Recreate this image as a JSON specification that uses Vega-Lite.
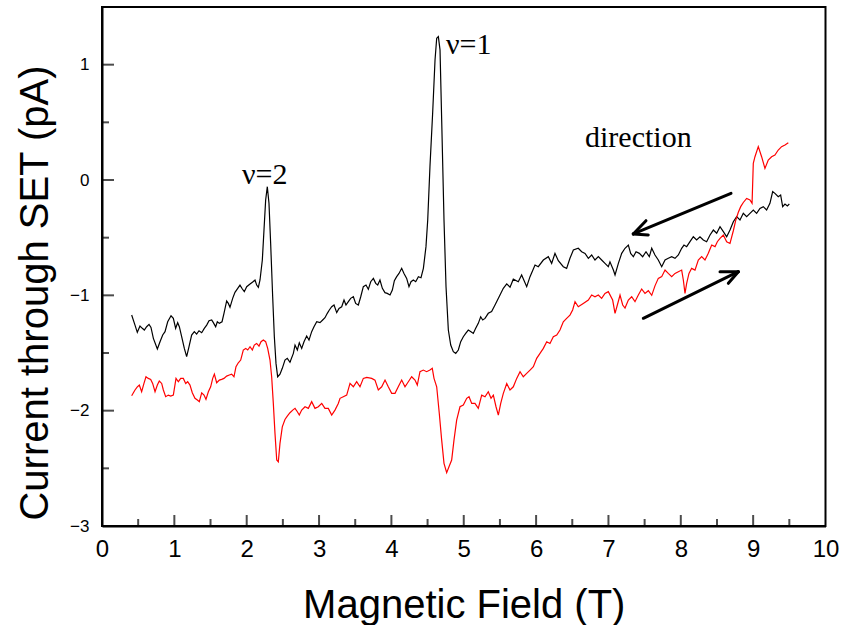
{
  "$schema": "https://vega.github.io/schema/vega-lite/v6.json",
  "width": 723.5,
  "height": 519,
  "autosize": {"type": "none"},
  "padding": {"left": 102, "top": 7, "right": 17.5, "bottom": 99},
  "background": "white",
  "config": {
    "view": {"stroke": "black", "strokeWidth": 2},
    "font": "Liberation Sans"
  },
  "datasets": {
    "down": [
      [0.41,-1.171],[0.456,-1.258],[0.488,-1.321],[0.525,-1.266],[0.557,-1.286],[0.585,-1.301],[0.617,-1.272],[0.65,-1.252],[0.677,-1.278],[0.71,-1.373],[0.765,-1.466],[0.802,-1.402],[0.839,-1.344],[0.871,-1.315],[0.908,-1.229],[0.954,-1.177],[0.986,-1.2],[1.018,-1.286],[1.046,-1.237],[1.069,-1.272],[1.101,-1.359],[1.138,-1.46],[1.17,-1.532],[1.202,-1.446],[1.239,-1.344],[1.276,-1.315],[1.308,-1.336],[1.341,-1.307],[1.378,-1.324],[1.414,-1.286],[1.447,-1.258],[1.479,-1.22],[1.516,-1.214],[1.539,-1.237],[1.571,-1.272],[1.594,-1.229],[1.622,-1.243],[1.659,-1.229],[1.686,-1.156],[1.723,-1.049],[1.746,-1.07],[1.769,-1.104],[1.806,-1.026],[1.838,-0.974],[1.876,-0.939],[1.907,-0.911],[1.94,-0.945],[1.967,-0.968],[2.0,-0.925],[2.046,-0.902],[2.083,-0.885],[2.115,-0.867],[2.138,-0.911],[2.161,-0.931],[2.184,-0.867],[2.216,-0.694],[2.239,-0.434],[2.262,-0.173],[2.285,-0.058],[2.308,-0.202],[2.331,-0.549],[2.359,-1.012],[2.382,-1.359],[2.405,-1.59],[2.428,-1.706],[2.46,-1.683],[2.492,-1.633],[2.529,-1.561],[2.561,-1.546],[2.598,-1.58],[2.645,-1.503],[2.668,-1.431],[2.7,-1.474],[2.727,-1.411],[2.76,-1.46],[2.792,-1.402],[2.829,-1.353],[2.861,-1.388],[2.898,-1.315],[2.93,-1.272],[2.968,-1.229],[3.013,-1.237],[3.05,-1.214],[3.082,-1.194],[3.114,-1.156],[3.142,-1.127],[3.175,-1.099],[3.207,-1.084],[3.244,-1.15],[3.276,-1.113],[3.313,-1.099],[3.345,-1.041],[3.372,-1.084],[3.405,-1.055],[3.437,-1.026],[3.474,-1.012],[3.506,-1.07],[3.543,-1.084],[3.576,-1.012],[3.612,-0.925],[3.649,-0.911],[3.681,-0.948],[3.714,-0.882],[3.751,-0.853],[3.783,-0.896],[3.811,-0.911],[3.842,-0.867],[3.875,-0.939],[3.911,-0.977],[3.943,-0.983],[3.981,-0.997],[4.013,-0.954],[4.041,-0.873],[4.073,-0.838],[4.105,-0.81],[4.142,-0.766],[4.174,-0.81],[4.211,-0.853],[4.243,-0.925],[4.271,-0.882],[4.303,-0.867],[4.336,-0.882],[4.373,-0.838],[4.409,-0.847],[4.442,-0.766],[4.478,-0.578],[4.502,-0.347],[4.533,0.116],[4.57,0.578],[4.603,1.041],[4.626,1.229],[4.649,1.243],[4.672,1.128],[4.695,0.52],[4.727,-0.347],[4.755,-0.925],[4.787,-1.301],[4.82,-1.431],[4.856,-1.489],[4.889,-1.503],[4.925,-1.474],[4.958,-1.402],[4.994,-1.359],[5.027,-1.33],[5.063,-1.301],[5.1,-1.315],[5.132,-1.33],[5.165,-1.286],[5.201,-1.243],[5.234,-1.186],[5.262,-1.214],[5.294,-1.2],[5.339,-1.156],[5.385,-1.14],[5.432,-1.084],[5.501,-0.998],[5.547,-0.939],[5.594,-0.9],[5.64,-0.93],[5.685,-0.86],[5.754,-0.882],[5.8,-0.824],[5.87,-0.925],[5.916,-0.838],[5.985,-0.737],[6.03,-0.752],[6.1,-0.694],[6.169,-0.665],[6.215,-0.723],[6.261,-0.636],[6.307,-0.7],[6.376,-0.752],[6.422,-0.766],[6.468,-0.679],[6.515,-0.607],[6.583,-0.592],[6.63,-0.622],[6.676,-0.636],[6.722,-0.679],[6.768,-0.65],[6.814,-0.694],[6.86,-0.665],[6.906,-0.694],[6.952,-0.723],[6.998,-0.752],[7.021,-0.71],[7.068,-0.781],[7.091,-0.824],[7.137,-0.723],[7.183,-0.636],[7.229,-0.592],[7.275,-0.564],[7.307,-0.636],[7.344,-0.665],[7.381,-0.622],[7.427,-0.636],[7.473,-0.665],[7.519,-0.622],[7.565,-0.665],[7.598,-0.592],[7.643,-0.65],[7.689,-0.694],[7.736,-0.752],[7.782,-0.694],[7.827,-0.679],[7.874,-0.665],[7.92,-0.679],[7.966,-0.65],[8.012,-0.592],[8.044,-0.564],[8.081,-0.578],[8.127,-0.535],[8.173,-0.492],[8.219,-0.52],[8.265,-0.492],[8.311,-0.52],[8.357,-0.535],[8.404,-0.477],[8.45,-0.434],[8.496,-0.462],[8.542,-0.405],[8.588,-0.448],[8.634,-0.492],[8.68,-0.434],[8.726,-0.362],[8.772,-0.318],[8.818,-0.347],[8.864,-0.289],[8.91,-0.318],[8.956,-0.289],[9.002,-0.26],[9.048,-0.289],[9.094,-0.246],[9.14,-0.231],[9.186,-0.26],[9.232,-0.202],[9.27,-0.101],[9.301,-0.116],[9.347,-0.145],[9.38,-0.13],[9.408,-0.231],[9.44,-0.208],[9.473,-0.225],[9.5,-0.208]
    ],
    "up": [
      [0.41,-1.871],[0.456,-1.821],[0.488,-1.793],[0.516,-1.778],[0.548,-1.836],[0.58,-1.764],[0.608,-1.706],[0.64,-1.72],[0.673,-1.729],[0.7,-1.764],[0.733,-1.836],[0.765,-1.778],[0.792,-1.743],[0.825,-1.764],[0.848,-1.821],[0.88,-1.879],[0.917,-1.865],[0.95,-1.873],[0.986,-1.865],[1.023,-1.72],[1.055,-1.749],[1.088,-1.72],[1.124,-1.72],[1.157,-1.764],[1.184,-1.749],[1.216,-1.778],[1.248,-1.845],[1.285,-1.893],[1.318,-1.908],[1.345,-1.922],[1.378,-1.845],[1.41,-1.865],[1.437,-1.902],[1.47,-1.836],[1.502,-1.793],[1.53,-1.72],[1.553,-1.683],[1.585,-1.758],[1.622,-1.735],[1.654,-1.729],[1.686,-1.72],[1.723,-1.7],[1.76,-1.691],[1.792,-1.683],[1.824,-1.706],[1.852,-1.619],[1.884,-1.585],[1.917,-1.561],[1.953,-1.474],[1.986,-1.46],[2.014,-1.474],[2.046,-1.446],[2.078,-1.474],[2.105,-1.431],[2.138,-1.417],[2.17,-1.44],[2.198,-1.402],[2.23,-1.388],[2.262,-1.402],[2.29,-1.46],[2.322,-1.561],[2.345,-1.706],[2.368,-1.937],[2.391,-2.197],[2.415,-2.428],[2.437,-2.443],[2.46,-2.284],[2.492,-2.14],[2.529,-2.076],[2.561,-2.047],[2.598,-2.018],[2.636,-1.995],[2.668,-1.98],[2.7,-2.009],[2.727,-2.038],[2.76,-1.995],[2.806,-1.966],[2.852,-1.98],[2.898,-1.922],[2.944,-1.98],[2.99,-1.966],[3.037,-1.937],[3.082,-1.98],[3.128,-1.98],[3.175,-2.038],[3.22,-1.995],[3.266,-1.937],[3.29,-1.893],[3.335,-1.879],[3.382,-1.865],[3.428,-1.764],[3.474,-1.793],[3.52,-1.749],[3.566,-1.793],[3.612,-1.72],[3.659,-1.711],[3.728,-1.72],[3.773,-1.735],[3.819,-1.821],[3.866,-1.793],[3.912,-1.735],[3.957,-1.793],[4.004,-1.85],[4.05,-1.85],[4.095,-1.793],[4.142,-1.735],[4.188,-1.793],[4.234,-1.749],[4.28,-1.706],[4.326,-1.735],[4.358,-1.778],[4.395,-1.662],[4.441,-1.648],[4.487,-1.662],[4.533,-1.648],[4.565,-1.633],[4.589,-1.72],[4.626,-1.793],[4.662,-2.024],[4.695,-2.255],[4.727,-2.457],[4.764,-2.538],[4.796,-2.486],[4.833,-2.428],[4.865,-2.255],[4.902,-2.082],[4.948,-1.966],[4.994,-1.951],[5.041,-1.893],[5.073,-1.879],[5.11,-1.937],[5.155,-1.937],[5.201,-1.98],[5.248,-1.865],[5.294,-1.879],[5.339,-1.836],[5.377,-1.893],[5.409,-1.865],[5.446,-1.966],[5.478,-2.038],[5.511,-1.937],[5.547,-1.85],[5.594,-1.764],[5.639,-1.821],[5.685,-1.793],[5.732,-1.72],[5.778,-1.662],[5.823,-1.706],[5.87,-1.677],[5.916,-1.648],[5.962,-1.619],[6.008,-1.546],[6.054,-1.503],[6.1,-1.46],[6.147,-1.402],[6.192,-1.417],[6.238,-1.359],[6.285,-1.344],[6.33,-1.301],[6.376,-1.229],[6.422,-1.2],[6.468,-1.171],[6.505,-1.127],[6.538,-1.055],[6.583,-1.099],[6.652,-1.07],[6.722,-1.041],[6.768,-0.997],[6.814,-1.012],[6.86,-0.997],[6.906,-1.026],[6.952,-0.983],[6.998,-0.968],[7.058,-1.041],[7.091,-1.156],[7.123,-1.084],[7.16,-0.997],[7.197,-1.084],[7.229,-1.11],[7.275,-1.041],[7.321,-1.012],[7.367,-1.055],[7.413,-0.997],[7.459,-0.945],[7.505,-0.983],[7.551,-0.96],[7.598,-1.0],[7.643,-0.918],[7.689,-0.853],[7.736,-0.838],[7.782,-0.781],[7.827,-0.81],[7.874,-0.838],[7.92,-0.81],[7.966,-0.795],[8.012,-0.781],[8.035,-0.867],[8.058,-0.983],[8.081,-0.896],[8.113,-0.81],[8.15,-0.766],[8.196,-0.781],[8.242,-0.694],[8.288,-0.665],[8.334,-0.694],[8.38,-0.636],[8.427,-0.564],[8.473,-0.578],[8.505,-0.535],[8.542,-0.506],[8.588,-0.477],[8.634,-0.535],[8.68,-0.55],[8.726,-0.44],[8.759,-0.35],[8.795,-0.28],[8.828,-0.231],[8.864,-0.195],[8.91,-0.16],[8.956,-0.173],[8.985,-0.202],[9.002,0.145],[9.025,0.202],[9.071,0.289],[9.117,0.202],[9.163,0.101],[9.209,0.173],[9.255,0.202],[9.301,0.217],[9.347,0.26],[9.393,0.289],[9.44,0.304],[9.486,0.324]
    ],
    "xTicks": [
      {"v": 0.5, "kind": "minor"}, {"v": 1, "kind": "major"}, {"v": 1.5, "kind": "minor"}, {"v": 2, "kind": "major"},
      {"v": 2.5, "kind": "minor"}, {"v": 3, "kind": "major"}, {"v": 3.5, "kind": "minor"}, {"v": 4, "kind": "major"},
      {"v": 4.5, "kind": "minor"}, {"v": 5, "kind": "major"}, {"v": 5.5, "kind": "minor"}, {"v": 6, "kind": "major"},
      {"v": 6.5, "kind": "minor"}, {"v": 7, "kind": "major"}, {"v": 7.5, "kind": "minor"}, {"v": 8, "kind": "major"},
      {"v": 8.5, "kind": "minor"}, {"v": 9, "kind": "major"}, {"v": 9.5, "kind": "minor"}
    ],
    "yTicks": [
      {"v": -2.5, "kind": "minor"}, {"v": -2, "kind": "major"}, {"v": -1.5, "kind": "minor"}, {"v": -1, "kind": "major"},
      {"v": -0.5, "kind": "minor"}, {"v": 0, "kind": "major"}, {"v": 0.5, "kind": "minor"}, {"v": 1, "kind": "major"}
    ],
    "arrows": [
      {"x1": 8.694, "y1": -0.115, "x2": 7.343, "y2": -0.468},
      {"x1": 7.343, "y1": -0.468, "x2": 7.519, "y2": -0.353},
      {"x1": 7.343, "y1": -0.468, "x2": 7.55, "y2": -0.477},
      {"x1": 7.482, "y1": -1.199, "x2": 8.795, "y2": -0.795},
      {"x1": 8.795, "y1": -0.795, "x2": 8.542, "y2": -0.795},
      {"x1": 8.795, "y1": -0.795, "x2": 8.657, "y2": -0.896}
    ],
    "notes": [
      {"x": 1.935, "y": -0.035, "label": "ν=2"},
      {"x": 4.755, "y": 1.093, "label": "ν=1"},
      {"x": 6.676, "y": 0.289, "label": "direction"}
    ]
  },
  "layer": [
    {
      "data": {"name": "down"},
      "transform": [
        {"calculate": "datum[0]", "as": "field_T"},
        {"calculate": "datum[1]", "as": "current_pA"}
      ],
      "mark": {"type": "line", "color": "black", "strokeWidth": 1.2},
      "encoding": {
        "x": {
          "field": "field_T", "type": "quantitative",
          "scale": {"domain": [0, 10], "nice": false, "zero": false},
          "axis": {
            "title": "Magnetic Field (T)",
            "values": [0,1,2,3,4,5,6,7,8,9,10],
            "format": "d",
            "labelFontSize": 24, "labelColor": "black", "labelPadding": 11,
            "labelFlush": false, "labelOverlap": false,
            "ticks": true, "tickSize": 0, "tickOpacity": 0,
            "domainColor": "black", "domainWidth": 2, "grid": false,
            "titleFontSize": 40, "titleFontWeight": "normal", "titleColor": "black",
            "titleBaseline": "alphabetic", "titleY": 91
          }
        },
        "y": {
          "field": "current_pA", "type": "quantitative",
          "scale": {"domain": [-3, 1.5], "nice": false, "zero": false},
          "axis": {
            "title": "Current through SET (pA)",
            "values": [-3,-2,-1,0,1],
            "format": "d",
            "labelFontSize": 17, "labelColor": "black", "labelPadding": 13,
            "labelFlush": false, "labelOverlap": false,
            "ticks": true, "tickSize": 0, "tickOpacity": 0,
            "domainColor": "black", "domainWidth": 2, "grid": false,
            "titleFontSize": 40, "titleFontWeight": "normal", "titleColor": "black",
            "titleAngle": 270, "titleAlign": "center", "titleBaseline": "alphabetic",
            "titleX": -55, "titleY": 285.5
          }
        }
      }
    },
    {
      "data": {"name": "up"},
      "transform": [
        {"calculate": "datum[0]", "as": "field_T"},
        {"calculate": "datum[1]", "as": "current_pA"}
      ],
      "mark": {"type": "line", "color": "#ff0000", "strokeWidth": 1.2},
      "encoding": {
        "x": {"field": "field_T", "type": "quantitative"},
        "y": {"field": "current_pA", "type": "quantitative"}
      }
    },
    {
      "data": {"name": "xTicks"},
      "transform": [{"filter": "datum.kind === 'major'"}],
      "mark": {"type": "tick", "color": "black", "thickness": 2, "orient": "vertical", "size": 11, "yOffset": -5.5},
      "encoding": {
        "x": {"field": "v", "type": "quantitative"},
        "y": {"datum": -3, "type": "quantitative"}
      }
    },
    {
      "data": {"name": "xTicks"},
      "transform": [{"filter": "datum.kind === 'minor'"}],
      "mark": {"type": "tick", "color": "black", "thickness": 2, "orient": "vertical", "size": 7, "yOffset": -3.5},
      "encoding": {
        "x": {"field": "v", "type": "quantitative"},
        "y": {"datum": -3, "type": "quantitative"}
      }
    },
    {
      "data": {"name": "yTicks"},
      "transform": [{"filter": "datum.kind === 'major'"}],
      "mark": {"type": "tick", "color": "black", "thickness": 2, "orient": "horizontal", "size": 12, "xOffset": 6},
      "encoding": {
        "y": {"field": "v", "type": "quantitative"},
        "x": {"datum": 0, "type": "quantitative"}
      }
    },
    {
      "data": {"name": "yTicks"},
      "transform": [{"filter": "datum.kind === 'minor'"}],
      "mark": {"type": "tick", "color": "black", "thickness": 2, "orient": "horizontal", "size": 7, "xOffset": 3.5},
      "encoding": {
        "y": {"field": "v", "type": "quantitative"},
        "x": {"datum": 0, "type": "quantitative"}
      }
    },
    {
      "data": {"name": "arrows"},
      "mark": {"type": "rule", "color": "black", "strokeWidth": 3, "strokeCap": "round"},
      "encoding": {
        "x": {"field": "x1", "type": "quantitative"},
        "y": {"field": "y1", "type": "quantitative"},
        "x2": {"field": "x2"},
        "y2": {"field": "y2"}
      }
    },
    {
      "data": {"name": "notes"},
      "mark": {"type": "text", "font": "Liberation Serif", "fontSize": 30, "align": "left", "baseline": "alphabetic", "color": "black"},
      "encoding": {
        "x": {"field": "x", "type": "quantitative"},
        "y": {"field": "y", "type": "quantitative"},
        "text": {"field": "label"}
      }
    }
  ]
}
